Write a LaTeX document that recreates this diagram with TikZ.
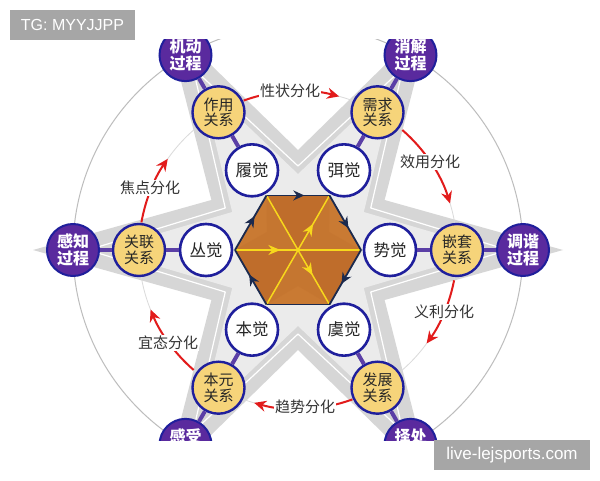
\documentclass[tikz,border=0pt]{standalone}
\usepackage{fontspec}
\setmainfont{Liberation Sans}
\newfontfamily\cjk{Noto Sans CJK SC}
\usetikzlibrary{arrows.meta,decorations.markings}
\definecolor{cdb}{HTML}{1F1F9C}
\definecolor{cyl}{HTML}{F6D47A}
\definecolor{cpu}{HTML}{5A2A9E}
\definecolor{clink}{HTML}{5B3FA6}
\definecolor{cred}{HTML}{E21B1B}
\definecolor{ctx}{HTML}{333333}
\definecolor{cnv}{HTML}{1B2A4E}
\definecolor{cyel}{HTML}{F7D81C}
\definecolor{chexa}{HTML}{C97A33}
\definecolor{chexb}{HTML}{BF6D2B}
\definecolor{cs1}{HTML}{D6D6D6}
\definecolor{cs2}{HTML}{EBEBEB}
\definecolor{cgc}{HTML}{BDBDBD}
\definecolor{cga}{HTML}{DADADA}
\definecolor{cwm}{HTML}{A6A6A6}
\tikzset{
 wc/.style={circle, draw=cdb, line width=2.6pt, fill=white, minimum size=52pt, inner sep=0pt, text=black!85, font=\cjk\fontsize{16.5}{16.5}\selectfont},
 yc/.style={circle, draw=cdb, line width=2.4pt, fill=cyl, minimum size=52pt, inner sep=0pt, align=center, text=black!85, font=\cjk\fontsize{15}{15.5}\selectfont},
 pc/.style={circle, draw=cdb, line width=2pt, fill=cpu, minimum size=52pt, inner sep=0pt, align=center, text=white, font=\cjk\bfseries\fontsize{16}{16.5}\selectfont},
 lbl/.style={fill=white, inner sep=1pt, text=ctx, font=\cjk\fontsize{15}{15}\selectfont},
 redarr/.style={draw=cred, line width=2pt, -{Stealth[length=12pt,width=11pt]}},
 link/.style={draw=clink, line width=4pt},
 hexedge/.style={draw=cnv, line width=1.8pt},
 narr/.style={postaction={decorate}, decoration={markings, mark=at position #1 with {\arrow[cnv]{Stealth[length=11pt,width=10pt]}}}},
 yline/.style={draw=cyel, line width=1.5pt},
 yarr/.style={postaction={decorate}, decoration={markings, mark=at position #1 with {\arrow[cyel]{Stealth[length=12pt,width=10pt]}}}},
 wmark/.style={fill=cwm, inner sep=0pt, text=white},
}
\begin{document}
\begin{tikzpicture}[x=1pt,y=1pt]
\useasboundingbox (0,0) rectangle (600,480);
\fill[white] (0,0) rectangle (600,480);
\begin{scope}
\clip (0,40) rectangle (600,440);
\begin{scope}[shift={(298,230)}]
 % background stars
 \fill[cs1] (0:265) \foreach \a in {0,60,...,300}{ -- (\a+30:100) -- (\a+60:265)} -- cycle;
 \fill[cs2] (0:195) \foreach \a in {0,60,...,300}{ -- (\a+30:76) -- (\a+60:195)} -- cycle;
 \draw[white, line width=1.2pt, line join=round] (0:210) \foreach \a in {0,60,...,300}{ -- (\a+30:84) -- (\a+60:210)} -- cycle;
 % rings
 \draw[cgc, line width=1pt] (0,0) circle[radius=225];
 \draw[cga, line width=0.8pt] (0,0) circle[radius=159];
 % red arcs
 \draw[redarr] (110:159) arc[start angle=110, end angle=75, radius=159];
 \draw[redarr] (49:159) arc[start angle=49, end angle=17, radius=159];
 \draw[redarr] (-11:159) arc[start angle=-11, end angle=-36, radius=159];
 \draw[redarr] (-70:159) arc[start angle=-70, end angle=-106, radius=159];
 \draw[redarr] (229:159) arc[start angle=229, end angle=202, radius=159];
 \draw[redarr] (170:159) arc[start angle=170, end angle=145, radius=159];
 % hexagon
 \foreach \i in {0,...,5}{\coordinate (h\i) at (\i*60:63);}
 \foreach \i/\c in {0/chexa,1/chexb,2/chexa,3/chexb,4/chexa,5/chexb}{
   \fill[\c] (0,0) -- (\i*60:63) -- (\i*60+60:63) -- cycle;}
 \fill[chexb, opacity=0.3] (0:63) \foreach \a in {0,60,...,300}{ -- (\a+30:36) -- (\a+60:63)} -- cycle;
 \draw[yline, yarr=0.36] (h3) -- (h0);
 \draw[yline, yarr=0.74] (h4) -- (h1);
 \draw[yline, yarr=0.73] (h2) -- (h5);
 \draw[hexedge, narr=0.6] (h2) -- (h1);
 \draw[hexedge, narr=0.6] (h1) -- (h0);
 \draw[hexedge, narr=0.62] (h0) -- (h5);
 \draw[hexedge] (h5) -- (h4);
 \draw[hexedge, narr=0.55] (h4) -- (h3);
 \draw[hexedge, narr=0.62] (h3) -- (h2);
 % nodes
 \node[wc] (w120) at (120:92) {履觉};
 \node[wc] (w60) at (60:92) {弭觉};
 \node[wc] (w0) at (0:92) {势觉};
 \node[wc] (w300) at (300:92) {虞觉};
 \node[wc] (w240) at (240:92) {本觉};
 \node[wc] (w180) at (180:92) {丛觉};
 \node[yc] (y120) at (120:159) {作用\\关系};
 \node[yc] (y60) at (60:159) {需求\\关系};
 \node[yc] (y0) at (0:159) {嵌套\\关系};
 \node[yc] (y300) at (300:159) {发展\\关系};
 \node[yc] (y240) at (240:159) {本元\\关系};
 \node[yc] (y180) at (180:159) {关联\\关系};
 \node[pc] (p120) at (120:225) {机动\\过程};
 \node[pc] (p60) at (60:225) {消解\\过程};
 \node[pc] (p0) at (0:225) {调谐\\过程};
 \node[pc] (p300) at (300:225) {择处\\过程};
 \node[pc] (p240) at (240:225) {感受\\过程};
 \node[pc] (p180) at (180:225) {感知\\过程};
 \foreach \a in {0,60,...,300}{
   \draw[link] (w\a) -- (y\a);
   \draw[link] (y\a) -- (p\a);}
 % labels
 \node[lbl] (l1) at (-8,159) {性状分化};
 \node[lbl] (l2) at (132,88) {效用分化};
 \node[lbl] (l3) at (146,-62) {义利分化};
 \node[lbl] (l4) at (7,-157) {趋势分化};
 \node[lbl] (l5) at (-130,-93) {宜态分化};
 \node[lbl] (l6) at (-148,62) {焦点分化};
\end{scope}
\end{scope}
\node[wmark, minimum width=125pt, minimum height=30pt, font=\fontsize{16}{16}\selectfont] (wm1) at (72.5,455) {TG: MYYJJPP};
\node[wmark, minimum width=156pt, minimum height=30pt, font=\fontsize{17}{17}\selectfont] (wm2) at (512,25) {live-lejsports.com};
\end{tikzpicture}
\end{document}
